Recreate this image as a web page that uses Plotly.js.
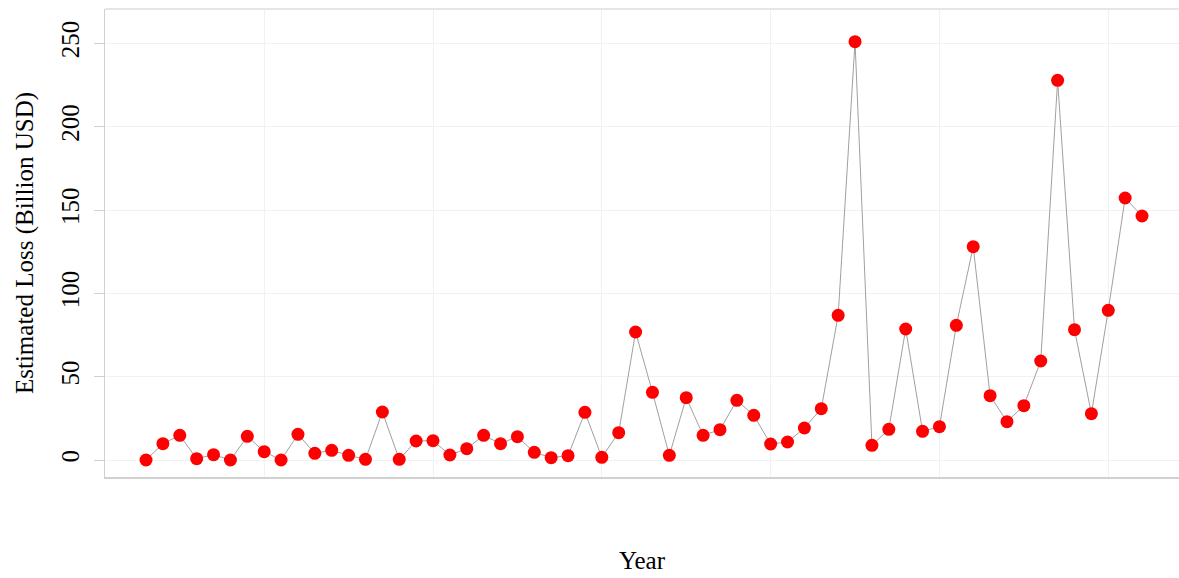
<!DOCTYPE html>
<html>
<head>
<meta charset="utf-8">
<script src="https://cdn.plot.ly/plotly-3.0.1.min.js"></script>
<style>html,body{margin:0;padding:0;background:#fff;}#chart{width:1179px;height:578px;}</style>
</head>
<body>
<div id="chart"></div>
<script>
const years = [1963,1964,1965,1966,1967,1968,1969,1970,1971,1972,1973,1974,1975,1976,1977,1978,1979,1980,1981,1982,1983,1984,1985,1986,1987,1988,1989,1990,1991,1992,1993,1994,1995,1996,1997,1998,1999,2000,2001,2002,2003,2004,2005,2006,2007,2008,2009,2010,2011,2012,2013,2014,2015,2016,2017,2018,2019,2020,2021,2022];
const losses = [0,9.8,14.8,0.8,3.2,0,14.2,5.0,0,15.4,4.0,5.8,2.8,0.4,28.8,0.4,11.4,11.6,3.0,6.8,14.8,9.8,14.0,4.6,1.4,2.6,28.6,1.6,16.4,76.8,40.6,2.8,37.4,14.8,18.2,35.8,26.8,9.6,10.8,19.2,30.8,86.8,251.0,8.8,18.4,78.6,17.2,20.0,80.8,128.0,38.6,23.0,32.6,59.4,227.8,78.2,27.8,89.8,157.2,146.4];
const yTicks = [0,50,100,150,200,250];

const trace = {
  x: years, y: losses, type: 'scatter', mode: 'lines+markers',
  line: {color: '#a0a0a0', width: 1},
  marker: {color: '#ff0000', size: 13},
  hoverinfo: 'x+y'
};
const layout = {
  width: 1179, height: 578,
  margin: {l: 105, r: 0, t: 9, b: 101},
  paper_bgcolor: '#fff', plot_bgcolor: '#fff',
  showlegend: false,
  font: {family: '"Liberation Serif", "Times New Roman", serif', color: '#000', size: 25},
  xaxis: {
    range: [1960.57, 2024.19], dtick: 10, tick0: 1970,
    showgrid: true, gridcolor: '#f1f1f1', gridwidth: 1,
    zeroline: false, showticklabels: false, ticks: '',
    showline: true, linecolor: '#d0d0d0', linewidth: 1.5,
    title: {text: 'Year', font: {size: 25}, standoff: 74}
  },
  yaxis: {
    range: [-10.2, 270.6], tickvals: yTicks, ticktext: yTicks.map(String),
    tickangle: -90, tickfont: {size: 25}, ticklabelstandoff: 5,
    showgrid: true, gridcolor: '#f1f1f1', gridwidth: 1,
    zeroline: false, ticks: 'outside', ticklen: 10, tickcolor: '#d0d0d0', tickwidth: 1,
    showline: true, linecolor: '#d0d0d0', linewidth: 1.5,
    title: {text: 'Estimated Loss (Billion USD)', font: {size: 25}, standoff: 16}
  },
  shapes: [{type: 'line', xref: 'paper', yref: 'paper', x0: 0, x1: 1, y0: 1, y1: 1,
            line: {color: '#e6e6e6', width: 2}}]
};
Plotly.newPlot('chart', [trace], layout, {displayModeBar: false, staticPlot: true});
</script>
</body>
</html>
